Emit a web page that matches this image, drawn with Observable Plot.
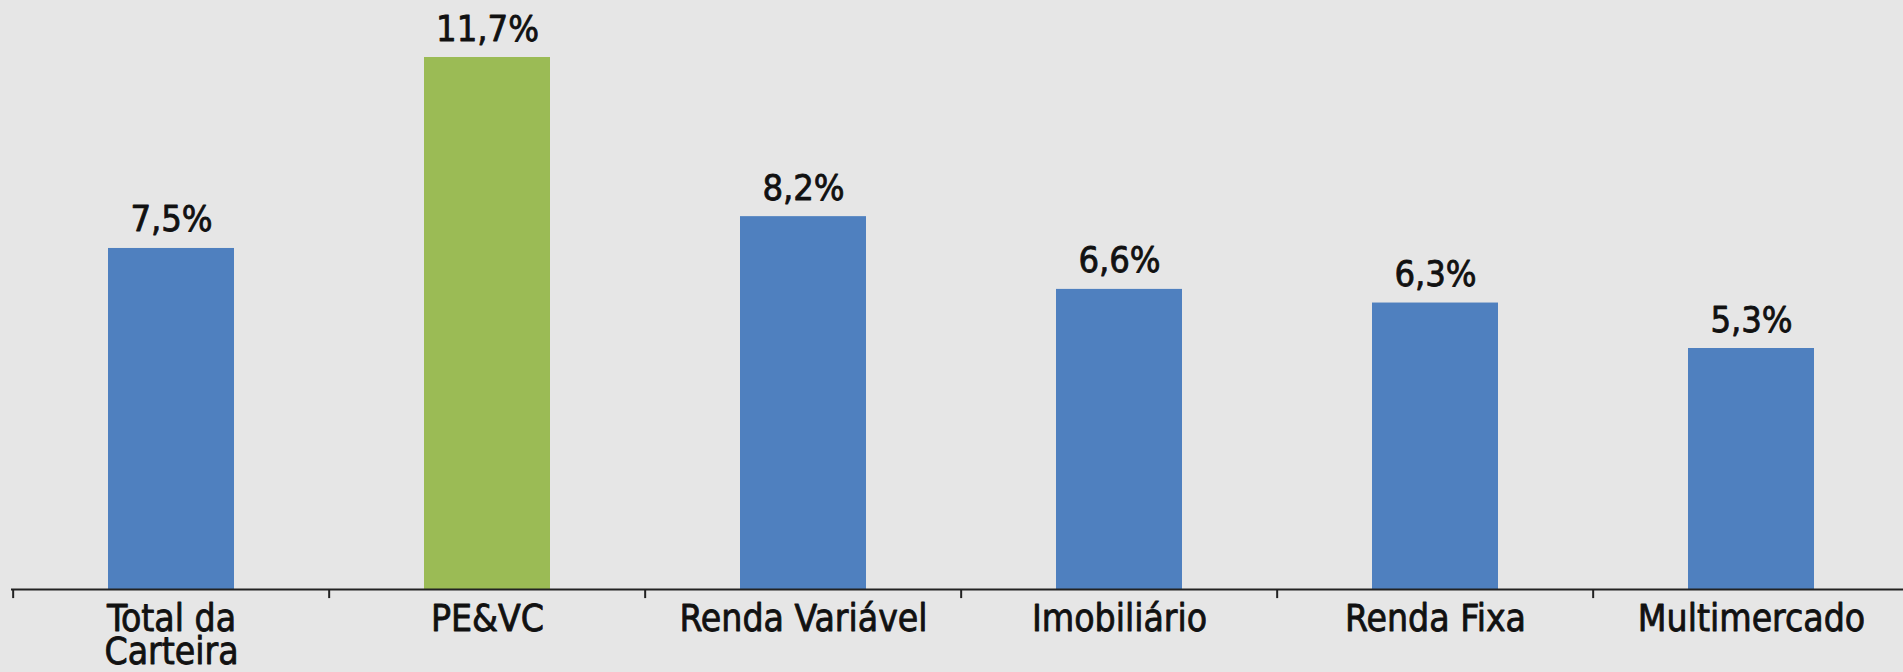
<!DOCTYPE html>
<html>
<head>
<meta charset="utf-8">
<script src="https://cdn.jsdelivr.net/npm/d3@7"></script>
<script src="https://cdn.jsdelivr.net/npm/@observablehq/plot@0.6"></script>
<style>
  html, body { margin: 0; padding: 0; background: #e6e6e6; overflow: hidden; }
  #chart svg { display: block; }
  #chart svg text { stroke: #111; stroke-width: 0.8px; paint-order: stroke; stroke-linejoin: round; }
</style>
</head>
<body>
<div id="chart"></div>
<script>
const categories = ["Total da\nCarteira", "PE&VC", "Renda Variável", "Imobiliário", "Renda Fixa", "Multimercado"];
const values = [7.5, 11.7, 8.2, 6.6, 6.3, 5.3];
const valueLabels = ["7,5%", "11,7%", "8,2%", "6,6%", "6,3%", "5,3%"];
const barColors = ["#4f80bf", "#9bbb55", "#4f80bf", "#4f80bf", "#4f80bf", "#4f80bf"];

const data = categories.map((c, i) => ({cat: c, value: values[i], label: valueLabels[i], color: barColors[i]}));

const W = 1903, H = 672;
const xRange = [11, 1911];
const step = (xRange[1] - xRange[0]) / categories.length;

const fontFamily = "'DejaVu Sans Condensed', 'DejaVu Sans', sans-serif";

const chart = Plot.plot({
  width: W,
  height: H,
  marginLeft: 11,
  marginRight: 0,
  marginTop: 0,
  marginBottom: 83,
  x: {domain: categories, range: xRange, paddingInner: 0.6, paddingOuter: 0.3},
  y: {domain: [0, 11.7], range: [589, 57], axis: null},
  color: {type: "identity"},
  style: {background: "#e6e6e6", fontFamily, fontStretch: "condensed", color: "#111"},
  marks: [
    Plot.barY(data, {x: "cat", y: "value", fill: "color"}),
    Plot.text(data, {x: "cat", y: "value", text: "label", dy: -17, lineAnchor: "bottom", fontSize: 36, fill: "#111"}),
    Plot.ruleY([0], {stroke: "#222", strokeWidth: 2}),
    Plot.ruleX(categories, {x: d => d, dx: -step / 2, y1: 0, y2: -0.2, stroke: "#222", strokeWidth: 2}),
    Plot.axisX({tickSize: 0, tickPadding: 19, fontSize: 37, lineHeight: 0.87, fill: "#111", label: null})
  ]
});

document.getElementById("chart").appendChild(chart);
</script>
</body>
</html>
